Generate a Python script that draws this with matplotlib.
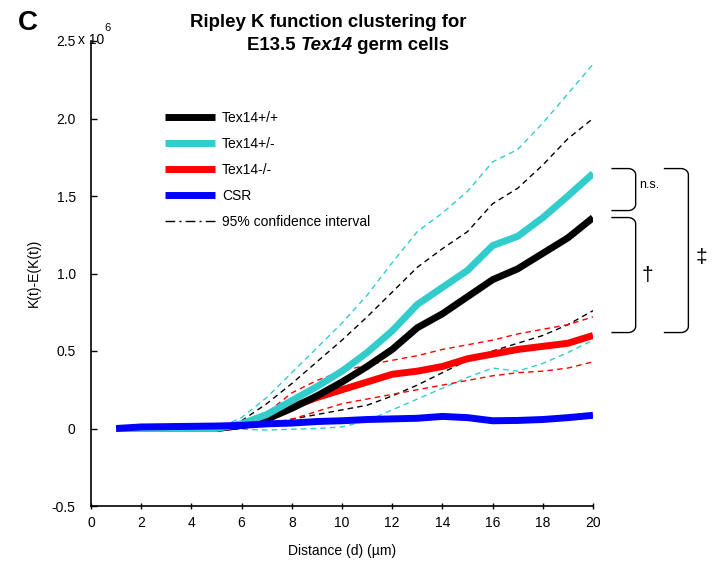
import numpy as np
import matplotlib
matplotlib.use("Agg")
import matplotlib.pyplot as plt
from matplotlib.lines import Line2D

plt.rcParams['font.family'] = ['Liberation Sans', 'DejaVu Sans']

############## DATA (units of 1e6) #################
distance = np.arange(1, 21)

wt_mean = [0, 0, 0, 0, 0, 0.02, 0.06, 0.13, 0.21, 0.30, 0.40, 0.51, 0.65, 0.74, 0.85, 0.96, 1.03, 1.13, 1.23, 1.36]
wt_hi   = [0, 0, 0, 0, 0, 0.05, 0.16, 0.29, 0.43, 0.57, 0.72, 0.88, 1.04, 1.16, 1.27, 1.45, 1.55, 1.70, 1.87, 2.00]
wt_lo   = [0, 0, 0, 0, 0, 0, 0.03, 0.06, 0.09, 0.12, 0.15, 0.21, 0.28, 0.36, 0.44, 0.50, 0.55, 0.60, 0.67, 0.76]

het_mean = [0, 0, 0, 0, 0, 0.03, 0.09, 0.18, 0.27, 0.37, 0.49, 0.63, 0.80, 0.91, 1.02, 1.18, 1.24, 1.36, 1.50, 1.645]
het_hi   = [0, 0, 0, 0, 0, 0.07, 0.20, 0.36, 0.52, 0.68, 0.86, 1.07, 1.27, 1.39, 1.53, 1.72, 1.80, 1.97, 2.16, 2.35]
het_lo   = [0, 0, 0, 0, 0, -0.005, -0.01, -0.005, 0.0, 0.01, 0.05, 0.12, 0.19, 0.26, 0.33, 0.39, 0.37, 0.42, 0.49, 0.57]

ko_mean = [0, 0, 0, 0, 0, 0.02, 0.07, 0.14, 0.20, 0.25, 0.30, 0.35, 0.37, 0.40, 0.45, 0.48, 0.51, 0.53, 0.55, 0.60]
ko_hi   = [0, 0, 0, 0, 0, 0.03, 0.10, 0.23, 0.31, 0.37, 0.41, 0.44, 0.47, 0.51, 0.54, 0.57, 0.61, 0.64, 0.67, 0.72]
ko_lo   = [0, 0, 0, 0, 0, 0, 0.02, 0.06, 0.11, 0.16, 0.19, 0.22, 0.25, 0.28, 0.31, 0.34, 0.36, 0.37, 0.39, 0.43]

csr = [0.0, 0.01, 0.012, 0.014, 0.016, 0.02, 0.03, 0.035, 0.045, 0.05, 0.058, 0.062, 0.066, 0.078, 0.07, 0.05, 0.052, 0.058, 0.07, 0.085]

labels = ["Tex14+/+", "Tex14+/-", "Tex14-/-", "CSR", "95% confidence interval"]
yticks = [-0.5, 0, 0.5, 1.0, 1.5, 2.0, 2.5]
yticklabels = ["-0.5", "0", "0.5", "1.0", "1.5", "2.0", "2.5"]
xticks = list(range(0, 21, 2))

BLACK = "black"
CYAN = "#33CCCC"
RED = "#FF0000"
BLUE = "#0000FF"

W, H = 721, 567
fig = plt.figure(figsize=(W / 100, H / 100), dpi=100)
ax = fig.add_axes([91 / W, 1 - 506 / H, (593 - 91) / W, (506 - 41) / H])

dash = (0, (4, 3))
for lo, hi, c in [(wt_lo, wt_hi, BLACK), (het_lo, het_hi, CYAN), (ko_lo, ko_hi, RED)]:
    ax.plot(distance, hi, color=c, lw=1, linestyle=dash)
    ax.plot(distance, lo, color=c, lw=1, linestyle=dash)

l_ko, = ax.plot(distance, ko_mean, color=RED, lw=5, solid_capstyle='butt')
l_wt, = ax.plot(distance, wt_mean, color=BLACK, lw=5, solid_capstyle='butt')
l_het, = ax.plot(distance, het_mean, color=CYAN, lw=5, solid_capstyle='butt')
l_csr, = ax.plot(distance, csr, color=BLUE, lw=5, solid_capstyle='butt')

ax.set_xlim(0, 20)
ax.set_ylim(-0.5, 2.5)
ax.set_xticks(xticks)
ax.set_yticks(yticks)
ax.set_yticklabels(yticklabels)
for s in ['top', 'right']:
    ax.spines[s].set_visible(False)
for s in ['left', 'bottom']:
    ax.spines[s].set_linewidth(1.2)
ax.tick_params(axis='y', direction='in', length=4, width=1, pad=11, labelsize=10)
ax.tick_params(axis='x', direction='inout', length=4, width=1, pad=5, labelsize=10)

# exponent next to the 2.5 label
fig.text(78 / W, 1 - 44 / H, "x 10", fontsize=10, ha='left', va='baseline')
fig.text(104 / W, 1 - 31 / H, "6", fontsize=8, ha='left', va='baseline')

ci_proxy = Line2D([], [], color='black', lw=1, linestyle=(0, (7, 3, 1.5, 3)))
ax.legend([l_wt, l_het, l_ko, l_csr, ci_proxy], labels, loc='upper left',
          bbox_to_anchor=(165 / W, 1 - 111 / H), bbox_transform=fig.transFigure,
          frameon=False, fontsize=10, borderpad=0, borderaxespad=0,
          handlelength=3.6, handletextpad=0.5, labelspacing=0.87)

# titles and labels
fig.text(18 / W, 1 - 30 / H, "C", fontsize=20, fontweight='bold', ha='left', va='baseline')
fig.text(328 / W, 1 - 27 / H, "Ripley K function clustering for", fontsize=13.4,
         fontweight='bold', ha='center', va='baseline')

# second title line in three pieces so "Tex14" can be bold italic
renderer = fig.canvas.get_renderer()
pieces = [("E13.5 ", 'normal'), ("Tex14", 'italic'), (" germ cells", 'normal')]
texts = [fig.text(0, 1 - 50 / H, s, fontsize=13.4, fontweight='bold', fontstyle=st,
                  ha='left', va='baseline') for s, st in pieces]
widths = [t.get_window_extent(renderer).width for t in texts]
xpix = 348 - sum(widths) / 2
for t, w in zip(texts, widths):
    t.set_x(xpix / W)
    xpix += w

fig.text(34 / W, 1 - 273 / H, "K(t)-E(K(t))", fontsize=10, rotation=90, ha='center', va='center')
fig.text(342 / W, 1 - 551 / H, "Distance (d) (\u00b5m)", fontsize=10, ha='center', va='center')


def bracket(x0, x1, ytop, ybot, rx=0.3, ry=0.04):
    t = np.linspace(0, np.pi / 2, 12)
    top_x = np.concatenate([[x0], x1 - rx + rx * np.sin(t)])
    top_y = np.concatenate([[ytop], ytop - ry + ry * np.cos(t)])
    bot_x = np.concatenate([x1 - rx + rx * np.cos(t), [x0]])
    bot_y = np.concatenate([ybot + ry - ry * np.sin(t), [ybot]])
    xs = np.concatenate([top_x, bot_x])
    ys = np.concatenate([top_y, bot_y])
    ax.plot(xs, ys, color='black', lw=1, clip_on=False)


bracket(20.76, 21.7, 1.677, 1.406)
bracket(20.76, 21.7, 1.361, 0.619)
bracket(22.85, 23.8, 1.677, 0.619)
ax.text(21.85, 1.568, "n.s.", fontsize=9, ha='left', va='center', clip_on=False)
ax.text(22.17, 0.987, "\u2020", fontsize=15, ha='center', va='center', clip_on=False)
ax.text(24.3, 1.103, "\u2021", fontsize=15, ha='center', va='center', clip_on=False)

fig.savefig("out.png", dpi=100)
